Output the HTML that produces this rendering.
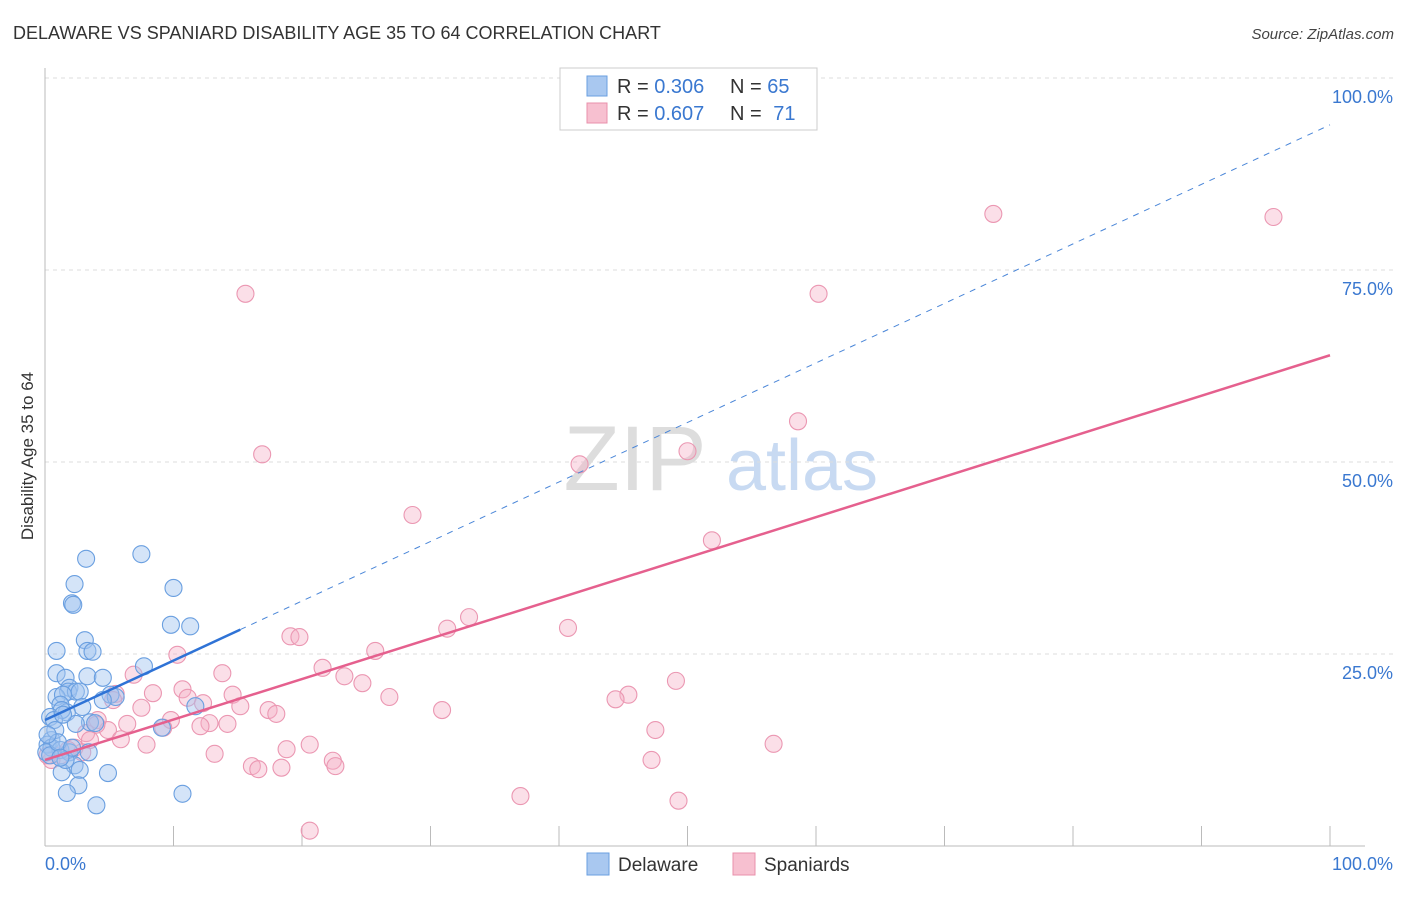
<!DOCTYPE html>
<html><head><meta charset="utf-8"><style>
body{margin:0;background:#fff;font-family:"Liberation Sans",sans-serif;}
svg text{font-family:"Liberation Sans",sans-serif;}
</style></head><body>
<svg id="chart" width="1406" height="892" viewBox="0 0 1406 892" xmlns="http://www.w3.org/2000/svg">
<text x="13" y="39" font-size="18" fill="#333">DELAWARE VS SPANIARD DISABILITY AGE 35 TO 64 CORRELATION CHART</text>
<text x="1394" y="39" font-size="15" fill="#444" text-anchor="end" font-style="italic">Source: ZipAtlas.com</text>
<g>
<text x="635" y="490" font-size="92" fill="#ddd" text-anchor="middle" font-family="Liberation Serif,serif">ZIP</text>
<text x="802" y="490" font-size="72" fill="#c8daf2" text-anchor="middle">atlas</text>
</g>
<g id="grid"></g>
<g id="axes"></g>
<g id="marks"></g>
<text transform="translate(33,456) rotate(-90)" font-size="17" fill="#333" text-anchor="middle">Disability Age 35 to 64</text>
<g>
<rect x="560" y="68" width="257" height="62" fill="#fff" stroke="#ccc"/>
<rect x="587" y="76" width="20" height="20" fill="#a9c8f0" stroke="#6a9fe0"/>
<rect x="587" y="103" width="20" height="20" fill="#f7c0d0" stroke="#e890ab"/>
<text x="617" y="93" font-size="20" fill="#333">R = <tspan fill="#3a78d0">0.306</tspan></text>
<text x="730" y="93" font-size="20" fill="#333">N = <tspan fill="#3a78d0">65</tspan></text>
<text x="617" y="120" font-size="20" fill="#333">R = <tspan fill="#3a78d0">0.607</tspan></text>
<text x="730" y="120" font-size="20" fill="#333">N = <tspan fill="#3a78d0" dx="6">71</tspan></text>
</g>
<g>
<rect x="587" y="853" width="22" height="22" fill="#a9c8f0" stroke="#6a9fe0"/>
<text x="618" y="871" font-size="19" fill="#333">Delaware</text>
<rect x="733" y="853" width="22" height="22" fill="#f7c0d0" stroke="#e890ab"/>
<text x="764" y="871" font-size="19" fill="#333">Spaniards</text>
</g>
</svg>
<script>
const blueX=[3.2,7.5,2.3,2.1,2.2,10.0,9.8,11.3,3.1,0.9,3.3,3.7,7.7,0.9,1.6,3.3,4.5,1.9,1.8,2.4,2.7,0.9,1.4,5.1,5.5,4.5,1.2,2.9,1.7,1.3,0.4,0.7,3.5,3.9,2.4,9.1,11.7,0.5,0.2,0.5,1.2,1.9,3.4,2.3,2.7,1.3,4.9,2.6,1.7,4.0,10.7,0.1,0.4,0.8,1.0,1.6,0.2,2.1,1.2,1.4];
const blueY=[37.4,38.0,34.1,31.6,31.4,33.6,28.8,28.6,26.8,25.4,25.4,25.3,23.4,22.5,21.9,22.1,21.9,20.6,20.1,20.1,20.1,19.4,19.7,19.7,19.4,19.0,18.4,18.1,17.4,17.7,16.8,16.4,16.1,16.0,15.9,15.4,18.2,13.8,13.2,12.8,12.5,12.2,12.2,10.5,9.9,9.6,9.5,7.9,6.9,5.3,6.8,12.2,11.8,15.1,13.5,11.2,14.5,12.8,11.5,17.1];
const pinkX=[73.8,95.6,15.6,60.2,58.6,16.9,50.0,41.6,28.6,51.9,33.0,31.3,40.7,19.1,19.8,25.7,10.3,21.6,13.8,23.3,6.9,24.7,49.1,10.7,8.4,45.4,44.4,14.6,26.8,11.1,12.3,15.2,30.9,7.5,17.4,18.0,5.5,4.1,6.4,12.8,14.2,9.8,12.1,9.2,47.5,3.2,4.9,5.9,7.9,20.6,18.8,56.7,13.2,22.4,22.6,16.1,16.6,18.4,47.2,2.3,3.5,1.2,0.5,0.2,1.8,2.9,37.0,49.3,20.6,5.3,4.0];
const pinkY=[82.3,81.9,71.9,71.9,55.3,51.0,51.4,49.7,43.1,39.8,29.8,28.3,28.4,27.3,27.2,25.4,24.9,23.2,22.5,22.1,22.3,21.2,21.5,20.4,19.9,19.7,19.1,19.7,19.4,19.3,18.6,18.2,17.7,18.0,17.7,17.2,19.8,16.4,15.9,16.0,15.9,16.4,15.6,15.4,15.1,14.7,15.1,13.9,13.2,13.2,12.6,13.3,12.0,11.1,10.4,10.4,10.0,10.2,11.2,12.8,13.8,11.8,11.2,11.8,12.5,12.2,6.5,5.9,2.0,19.0,15.8];
const blueTrend=[16.4,93.9];   // y at x=0, x=100
const blueSolidEnd=15.2;
const pinkTrend=[11.2,63.9];
const yTicks=[25,50,75,100];
const yTickLabels=["25.0%","50.0%","75.0%","100.0%"];
const xTicks=[0,10,20,30,40,50,60,70,80,90,100];

const NS="http://www.w3.org/2000/svg";
const X=v=>45+v*12.85, Y=v=>846-v*7.68;
function mk(tag,attrs,parent){const e=document.createElementNS(NS,tag);for(const k in attrs)e.setAttribute(k,attrs[k]);parent.appendChild(e);return e;}
const grid=document.getElementById('grid'),axes=document.getElementById('axes'),marks=document.getElementById('marks');
yTicks.forEach((t,i)=>{
 const l=mk('line',{x1:45,x2:1393,y1:Y(t),y2:Y(t),stroke:'#ddd','stroke-dasharray':'4,4'},grid);
 
 
 const tx=mk('text',{x:1393,y:Y(t)+25,'font-size':18,fill:'#3a78d0','text-anchor':'end'},axes);
 tx.textContent=yTickLabels[i];
 
 
});
const ax=mk('line',{x1:45,x2:1365,y1:846,y2:846,stroke:'#bbb'},axes);


const ay=mk('line',{x1:45,x2:45,y1:68,y2:846,stroke:'#bbb'},axes);


xTicks.forEach(t=>{
 const l=mk('line',{x1:X(t),x2:X(t),y1:826,y2:846,stroke:'#bbb'},axes);
 
 
});
const xl=mk('text',{x:45,y:870,'font-size':18,fill:'#3a78d0'},axes);xl.textContent='0.0%';


const xr=mk('text',{x:1393,y:870,'font-size':18,fill:'#3a78d0','text-anchor':'end'},axes);xr.textContent='100.0%';



function pts(xs,ys,fill,stroke,name){xs.forEach((x,i)=>{
 const c=mk('circle',{cx:X(x),cy:Y(ys[i]),r:8.5,fill:fill,stroke:stroke,'stroke-width':1.1},marks);
 
 
});}
pts(pinkX,pinkY,'rgba(245,175,198,0.4)','#eb97b2','spaniards-point');
pts(blueX,blueY,'rgba(160,196,240,0.45)','#6a9fe0','delaware-point');
const by=x=>blueTrend[0]+(blueTrend[1]-blueTrend[0])*x/100;
const bd=mk('line',{x1:X(blueSolidEnd),y1:Y(by(blueSolidEnd)),x2:X(100),y2:Y(by(100)),stroke:'#4a86d8','stroke-width':1,'stroke-dasharray':'6,6'},marks);


const bs=mk('line',{x1:X(0),y1:Y(by(0)),x2:X(blueSolidEnd),y2:Y(by(blueSolidEnd)),stroke:'#2f73d6','stroke-width':2.5},marks);


const ps=mk('line',{x1:X(0),y1:Y(pinkTrend[0]),x2:X(100),y2:Y(pinkTrend[1]),stroke:'#e5608e','stroke-width':2.5},marks);


</script>
</body></html>
